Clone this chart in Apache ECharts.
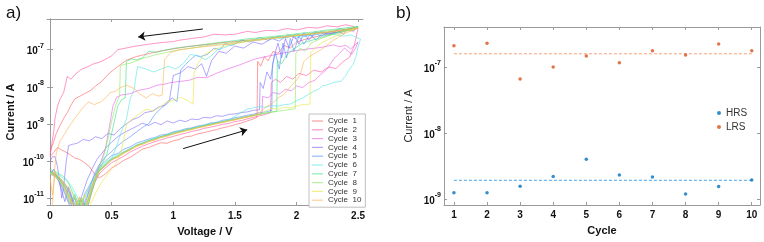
<!DOCTYPE html>
<html>
<head>
<meta charset="utf-8">
<script src="https://cdn.jsdelivr.net/npm/echarts@6/dist/echarts.min.js"></script>
<style>
  html, body { margin: 0; padding: 0; background: #fff; }
  #chart { width: 764px; height: 242px; }
</style>
</head>
<body>
<div id="chart"></div>
<script>
// ---- panel a) : I-V sweeps, [voltage, current] ----
const cycle1 = [[0,1.3e-10],[0.03,1.7e-10],[0.06,2.3e-10],[0.09,2.0e-10],[0.12,1.8e-10],[0.16,1.5e-10],[0.2,1.2e-10],[0.24,1.1e-10],[0.28,9e-11],[0.32,7e-11],[0.36,4.5e-11],[0.4,3.5e-11],[0.45,4.5e-11],[0.5,6.5e-11],[0.55,8e-11],[0.6,1.05e-10],[0.65,1.25e-10],[0.7,1.6e-10],[0.75,2.1e-10],[0.8,2.3e-10],[0.85,2.7e-10],[0.9,3.1e-10],[0.95,3.0e-10],[1.0,3.5e-10],[1.05,3.8e-10],[1.1,4.5e-10],[1.15,4.7e-10],[1.2,5.4e-10],[1.25,5.8e-10],[1.3,6.4e-10],[1.35,7e-10],[1.4,7.8e-10],[1.45,8.5e-10],[1.5,9.5e-10],[1.55,1.05e-9],[1.6,1.2e-9],[1.65,1.35e-9],[1.68,1.5e-9],[1.685,4.8e-8],[1.71,3.6e-8],[1.74,6.5e-8],[1.77,5e-8],[1.81,9e-8],[1.85,8e-8],[1.9,1.3e-7],[1.95,1.1e-7],[2.0,1.6e-7],[2.07,1.9e-7],[2.15,2.2e-7],[2.25,2.6e-7],[2.35,3.1e-7],[2.43,3.5e-7],[2.5,4.1e-7],
  [2.46,3.8e-7],[2.4,3.4e-7],[2.33,3.3e-7],[2.25,2.9e-7],[2.17,2.8e-7],[2.08,2.5e-7],[2.0,2.4e-7],[1.9,2.2e-7],[1.8,2.1e-7],[1.7,1.9e-7],[1.6,1.8e-7],[1.5,1.65e-7],[1.4,1.55e-7],[1.3,1.4e-7],[1.2,1.3e-7],[1.1,1.18e-7],[1.0,1.05e-7],[0.9,9.2e-8],[0.8,7.8e-8],[0.7,6.5e-8],[0.62,5.2e-8],[0.54,3.3e-8],[0.48,2.3e-8],[0.42,1.4e-8],[0.37,1.05e-8],[0.33,8e-9],[0.28,6.5e-9],[0.24,5.5e-9],[0.2,4.7e-9],[0.17,3.2e-9],[0.14,2e-9],[0.11,1.4e-9],[0.08,9e-10],[0.05,5.5e-10],[0.03,3.4e-10],[0.01,2.2e-10],[0,1.8e-10]];
const cycle2 = [[0,5.5e-11],[0.04,4.5e-11],[0.08,3.2e-11],[0.12,2e-11],[0.16,9e-12],[0.2,4e-12],[0.24,7e-12],[0.28,3e-12],[0.32,9e-12],[0.36,2.5e-11],[0.4,4.5e-11],[0.45,6.5e-11],[0.5,9e-11],[0.55,1.1e-10],[0.6,1.35e-10],[0.65,1.75e-10],[0.7,2.1e-10],[0.75,2.5e-10],[0.8,2.9e-10],[0.85,3.3e-10],[0.9,3.7e-10],[0.95,4.2e-10],[1.0,4.6e-10],[1.05,5.1e-10],[1.1,5.6e-10],[1.15,6.3e-10],[1.2,6.7e-10],[1.25,7.6e-10],[1.3,8.1e-10],[1.35,8.8e-10],[1.4,9.7e-10],[1.45,1.03e-9],[1.5,1.15e-9],[1.55,1.22e-9],[1.6,1.36e-9],[1.65,1.5e-9],[1.7,1.65e-9],[1.75,1.8e-9],[1.79,2e-9],[1.795,1.3e-8],[1.83,1.6e-8],[1.87,1.3e-8],[1.92,1.9e-8],[1.97,1.6e-8],[2.02,2.3e-8],[2.08,2e-8],[2.14,2.8e-8],[2.2,2.5e-8],[2.26,3.4e-8],[2.32,3.1e-8],[2.38,4.8e-8],[2.43,6.2e-8],[2.47,1.3e-7],[2.5,3.8e-7],
  [2.45,4.3e-7],[2.4,4.7e-7],[2.33,4.1e-7],[2.25,4.4e-7],[2.17,3.8e-7],[2.1,4e-7],[2.0,3.4e-7],[1.92,3.7e-7],[1.84,3.2e-7],[1.75,3.3e-7],[1.67,2.9e-7],[1.6,3.1e-7],[1.5,2.6e-7],[1.42,2.5e-7],[1.33,2.6e-7],[1.25,2.2e-7],[1.15,2e-7],[1.05,1.8e-7],[1.0,1.65e-7],[0.9,1.55e-7],[0.8,1.4e-7],[0.7,1.25e-7],[0.6,1.08e-7],[0.55,1e-7],[0.5,6.8e-8],[0.45,5.5e-8],[0.4,4.6e-8],[0.35,4.1e-8],[0.3,3.4e-8],[0.25,2.9e-8],[0.2,2.1e-8],[0.17,1.6e-8],[0.14,1.9e-8],[0.11,7e-9],[0.08,4.6e-9],[0.06,3e-9],[0.04,1.4e-9],[0.03,6.3e-10],[0.015,3e-10],[0,1.4e-10]];
const cycle3 = [[0,4.5e-11],[0.04,3.8e-11],[0.08,2.8e-11],[0.12,1.5e-11],[0.16,7e-12],[0.2,1.1e-11],[0.24,4e-12],[0.28,8e-12],[0.32,1.6e-11],[0.36,3e-11],[0.4,5.5e-11],[0.45,8e-11],[0.5,1.1e-10],[0.55,1.35e-10],[0.6,1.7e-10],[0.65,2.1e-10],[0.7,2.5e-10],[0.75,2.9e-10],[0.8,3.5e-10],[0.85,3.7e-10],[0.9,4.5e-10],[0.95,4.9e-10],[1.0,5.4e-10],[1.05,6.2e-10],[1.1,6.6e-10],[1.15,7.5e-10],[1.2,7.9e-10],[1.25,8.9e-10],[1.3,9.3e-10],[1.35,1.05e-9],[1.4,1.1e-9],[1.45,1.22e-9],[1.5,1.3e-9],[1.55,1.45e-9],[1.6,1.55e-9],[1.65,1.7e-9],[1.72,1.85e-9],[1.725,5.5e-9],[1.77,5e-9],[1.81,7e-9],[1.86,6.3e-9],[1.91,8.5e-9],[1.96,7.8e-9],[2.0,1.05e-8],[2.05,9.5e-9],[2.1,1.3e-8],[2.15,1.5e-8],[2.2,2.2e-8],[2.25,3e-8],[2.3,5.5e-8],[2.35,8e-8],[2.39,1.1e-7],[2.42,9e-8],[2.45,7.5e-8],[2.48,1.1e-7],[2.5,1.6e-7],
  [2.47,1.3e-7],[2.44,1.05e-7],[2.4,1.3e-7],[2.35,1.2e-7],[2.3,1.35e-7],[2.2,1.15e-7],[2.1,1.05e-7],[2.0,9.5e-8],[1.9,8.2e-8],[1.8,7e-8],[1.72,6.2e-8],[1.65,5.4e-8],[1.55,4e-8],[1.44,3e-8],[1.35,2.3e-8],[1.27,1.75e-8],[1.2,1.8e-8],[1.13,1.5e-8],[1.06,1.4e-8],[0.98,1.3e-8],[0.92,1.15e-8],[0.87,1.1e-8],[0.8,9e-9],[0.72,8e-9],[0.65,6.5e-9],[0.58,6e-9],[0.54,5.2e-9],[0.51,3e-9],[0.48,8e-10],[0.45,2.2e-10],[0.41,9e-11],[0.37,4e-11],[0.33,1.5e-11],[0.29,6e-12],[0.25,9e-12],[0.21,4e-12],[0.17,1.2e-11],[0.13,2.2e-11],[0.09,3.2e-11],[0.05,4e-11],[0,5e-11]];
const cycle4 = [[0,4e-11],[0.03,6e-11],[0.06,3.5e-11],[0.09,1.8e-11],[0.12,8e-12],[0.15,2e-11],[0.18,1e-11],[0.22,5e-12],[0.26,1.2e-11],[0.3,3e-11],[0.34,6e-11],[0.38,1.1e-10],[0.42,1.6e-10],[0.46,2.4e-10],[0.5,3.2e-10],[0.55,4.5e-10],[0.6,5.8e-10],[0.65,7e-10],[0.7,8.5e-10],[0.75,1.05e-9],[0.8,9e-10],[0.85,1.1e-9],[0.9,9.5e-10],[0.95,1.2e-9],[1.0,1.05e-9],[1.05,1.25e-9],[1.1,1.15e-9],[1.15,1.35e-9],[1.2,1.3e-9],[1.25,1.5e-9],[1.3,1.45e-9],[1.35,1.65e-9],[1.4,1.6e-9],[1.45,1.8e-9],[1.5,1.85e-9],[1.55,2e-9],[1.6,2.1e-9],[1.65,2.3e-9],[1.7,2.4e-9],[1.705,1.3e-8],[1.73,9e-9],[1.76,2.5e-8],[1.79,1.6e-8],[1.82,7e-8],[1.85,1.5e-7],[1.88,6e-8],[1.91,2e-7],[1.94,1.1e-7],[1.98,2.4e-7],[2.02,1.4e-7],[2.06,2.7e-7],[2.1,1.8e-7],[2.15,2.9e-7],[2.2,2.3e-7],[2.27,3.1e-7],[2.35,2.8e-7],[2.42,3.5e-7],[2.5,4e-7],
  [2.46,3.1e-7],[2.42,3.8e-7],[2.38,2.6e-7],[2.33,3.3e-7],[2.27,2.5e-7],[2.2,3.1e-7],[2.13,2.3e-7],[2.06,2.8e-7],[2.0,2e-7],[1.93,2.5e-7],[1.86,1.7e-7],[1.8,2e-7],[1.72,1.4e-7],[1.65,1.6e-7],[1.57,1.1e-7],[1.5,1.25e-7],[1.43,8e-8],[1.37,9e-8],[1.31,5e-8],[1.27,1.9e-8],[1.23,4.2e-8],[1.18,3e-8],[1.12,3.5e-8],[1.06,2.4e-8],[1.0,2e-8],[0.97,4.5e-9],[0.93,3.2e-9],[0.88,2.8e-9],[0.83,2.2e-9],[0.77,2e-9],[0.72,1.5e-9],[0.67,1.3e-9],[0.62,1e-9],[0.57,7.5e-10],[0.52,5e-10],[0.47,5.5e-10],[0.42,4e-10],[0.37,4.5e-10],[0.32,3.5e-10],[0.27,3.8e-10],[0.22,3e-10],[0.18,2.8e-10],[0.15,2.6e-10],[0.13,9e-11],[0.11,2e-11],[0.095,1e-11],[0.08,2.5e-11],[0.06,7e-11],[0.04,1.3e-10],[0.02,1.3e-10],[0,1e-10]];
const cycle5 = [[0,5e-11],[0.04,4e-11],[0.08,2.6e-11],[0.12,1.3e-11],[0.16,6e-12],[0.2,1e-11],[0.24,4e-12],[0.28,1.3e-11],[0.32,2.2e-11],[0.36,4e-11],[0.4,7e-11],[0.45,1e-10],[0.5,1.4e-10],[0.55,1.6e-10],[0.6,2.1e-10],[0.65,2.4e-10],[0.7,3e-10],[0.75,3.4e-10],[0.8,3.9e-10],[0.85,4.3e-10],[0.9,5e-10],[0.95,5.3e-10],[1.0,6.1e-10],[1.05,6.6e-10],[1.1,7.4e-10],[1.15,7.8e-10],[1.2,8.8e-10],[1.25,9.3e-10],[1.3,1.05e-9],[1.35,1.1e-9],[1.4,1.25e-9],[1.45,1.32e-9],[1.5,1.46e-9],[1.55,1.56e-9],[1.6,1.7e-9],[1.65,1.82e-9],[1.7,2e-9],[1.75,2.1e-9],[1.8,2.3e-9],[1.805,4e-8],[1.83,8e-8],[1.86,3e-8],[1.89,1.5e-7],[1.92,6e-8],[1.95,2e-7],[1.98,9e-8],[2.02,2.3e-7],[2.06,1.4e-7],[2.11,2.6e-7],[2.16,1.8e-7],[2.22,3e-7],[2.3,2.6e-7],[2.38,3.5e-7],[2.45,3.2e-7],[2.5,4.1e-7],
  [2.45,3.7e-7],[2.4,3.3e-7],[2.35,3.7e-7],[2.3,3e-7],[2.22,2.7e-7],[2.15,3e-7],[2.07,2.3e-7],[2.0,2.6e-7],[1.92,2.1e-7],[1.85,2.3e-7],[1.77,1.8e-7],[1.7,2.1e-7],[1.62,1.6e-7],[1.55,1.8e-7],[1.48,1.3e-7],[1.42,1.45e-7],[1.38,1e-7],[1.33,1.1e-7],[1.28,7.5e-8],[1.22,6.5e-8],[1.18,7e-8],[1.14,5.4e-8],[1.1,4e-8],[1.06,2.8e-8],[1.03,4e-9],[0.99,5e-9],[0.95,3.5e-9],[0.9,2.6e-9],[0.85,1.8e-9],[0.8,1e-9],[0.75,8e-10],[0.7,6e-10],[0.65,4.5e-10],[0.6,3.5e-10],[0.55,2.6e-10],[0.5,1.8e-10],[0.45,1.3e-10],[0.4,8e-11],[0.36,4.5e-11],[0.32,1.8e-11],[0.28,6e-12],[0.24,1e-11],[0.2,5e-12],[0.16,1.3e-11],[0.12,2.3e-11],[0.08,3.2e-11],[0.04,4e-11],[0,4.5e-11]];
const cycle6 = [[0,5e-11],[0.04,4.3e-11],[0.08,3e-11],[0.12,1.7e-11],[0.16,8e-12],[0.2,1.3e-11],[0.24,5e-12],[0.28,1e-11],[0.32,2e-11],[0.36,3.5e-11],[0.4,6e-11],[0.45,9e-11],[0.5,1.2e-10],[0.55,1.5e-10],[0.6,1.8e-10],[0.65,2.2e-10],[0.7,2.6e-10],[0.75,3.1e-10],[0.8,3.5e-10],[0.85,4.1e-10],[0.9,4.5e-10],[0.95,5.1e-10],[1.0,5.6e-10],[1.05,6.3e-10],[1.1,6.8e-10],[1.15,7.6e-10],[1.2,8.2e-10],[1.25,9e-10],[1.3,9.8e-10],[1.35,1.07e-9],[1.4,1.15e-9],[1.45,1.25e-9],[1.5,1.6e-9],[1.55,2e-9],[1.6,2.5e-9],[1.65,2.7e-9],[1.7,2.9e-9],[1.75,2.8e-9],[1.8,3.1e-9],[1.85,3e-9],[1.9,3.3e-9],[1.95,3.4e-9],[2.0,4.2e-9],[2.05,5e-9],[2.1,6.3e-9],[2.14,7.6e-9],[2.18,8.5e-9],[2.21,1.05e-8],[2.26,1.15e-8],[2.3,1.3e-8],[2.36,1.4e-8],[2.4,2e-8],[2.43,3e-8],[2.46,4e-8],[2.48,6e-8],[2.5,1.2e-7],[2.52,1.9e-7],
  [2.48,2.2e-7],[2.44,2.5e-7],[2.38,2.3e-7],[2.3,2.6e-7],[2.22,2.4e-7],[2.14,2.6e-7],[2.05,2.2e-7],[1.96,2.3e-7],[1.87,2e-7],[1.78,2.1e-7],[1.7,1.8e-7],[1.6,1.7e-7],[1.5,1.45e-7],[1.42,1.15e-7],[1.36,1e-7],[1.3,6.5e-8],[1.26,5.4e-8],[1.2,6.8e-8],[1.14,7.5e-8],[1.08,4.2e-8],[1.02,3e-8],[0.96,3.6e-8],[0.9,3e-8],[0.84,2.5e-8],[0.78,3e-8],[0.71,3.5e-8],[0.68,8e-9],[0.65,4.7e-9],[0.62,1.35e-9],[0.58,6.3e-10],[0.54,2.5e-10],[0.5,1.2e-10],[0.45,8e-11],[0.4,5e-11],[0.35,2.5e-11],[0.3,1e-11],[0.26,5e-12],[0.22,1.1e-11],[0.17,2.2e-11],[0.12,3.2e-11],[0.07,4.2e-11],[0,5e-11]];
const cycle7 = [[0,5.2e-11],[0.04,4.4e-11],[0.08,3.1e-11],[0.12,1.9e-11],[0.16,1.1e-11],[0.2,6e-12],[0.24,9e-12],[0.28,4.5e-12],[0.32,1.1e-11],[0.36,2.8e-11],[0.4,5.5e-11],[0.45,7.5e-11],[0.5,1.1e-10],[0.55,1.3e-10],[0.6,1.7e-10],[0.65,2e-10],[0.7,2.7e-10],[0.75,3e-10],[0.8,3.6e-10],[0.85,4e-10],[0.9,4.6e-10],[0.95,5e-10],[1.0,5.8e-10],[1.05,6.2e-10],[1.1,7e-10],[1.15,7.5e-10],[1.2,8.3e-10],[1.25,9e-10],[1.3,1e-9],[1.35,1.06e-9],[1.4,1.16e-9],[1.45,1.25e-9],[1.5,1.36e-9],[1.55,1.45e-9],[1.6,1.6e-9],[1.65,1.7e-9],[1.7,1.85e-9],[1.75,1.95e-9],[1.8,2.1e-9],[1.84,2.2e-9],[1.845,5e-8],[1.88,4.2e-8],[1.92,7e-8],[1.97,1e-7],[2.05,1.5e-7],[2.15,1.9e-7],[2.25,2.4e-7],[2.35,3e-7],[2.45,3.6e-7],[2.5,4.2e-7],
  [2.45,4e-7],[2.38,3.8e-7],[2.3,3.5e-7],[2.22,3.3e-7],[2.14,3e-7],[2.05,2.8e-7],[1.97,2.6e-7],[1.88,2.4e-7],[1.8,2.25e-7],[1.7,2.1e-7],[1.6,1.95e-7],[1.5,1.75e-7],[1.4,1.6e-7],[1.3,1.45e-7],[1.2,1.3e-7],[1.1,1.2e-7],[1.0,1.08e-7],[0.92,9.5e-8],[0.86,8.5e-8],[0.8,9e-8],[0.75,6e-8],[0.7,5.3e-8],[0.66,5.6e-8],[0.62,4.8e-8],[0.61,5e-9],[0.58,4.5e-9],[0.55,3e-9],[0.52,1.1e-9],[0.49,4e-10],[0.46,1.5e-10],[0.42,8e-11],[0.38,4e-11],[0.34,1.5e-11],[0.3,5e-12],[0.26,1e-11],[0.22,6e-12],[0.18,1.5e-11],[0.14,3e-11],[0.1,4e-11],[0.05,5e-11],[0,6e-11]];
const cycle8 = [[0,4.8e-11],[0.04,4e-11],[0.08,2.7e-11],[0.12,1.6e-11],[0.16,7e-12],[0.2,1.2e-11],[0.24,6e-12],[0.28,1.1e-11],[0.32,1.9e-11],[0.36,3.3e-11],[0.4,6e-11],[0.45,8.5e-11],[0.5,1.15e-10],[0.55,1.4e-10],[0.6,1.75e-10],[0.65,2.15e-10],[0.7,2.5e-10],[0.75,3e-10],[0.8,3.3e-10],[0.85,3.9e-10],[0.9,4.3e-10],[0.95,4.9e-10],[1.0,5.3e-10],[1.05,6e-10],[1.1,6.5e-10],[1.15,7.3e-10],[1.2,7.8e-10],[1.25,8.8e-10],[1.3,9.3e-10],[1.35,1.04e-9],[1.4,1.1e-9],[1.45,1.22e-9],[1.5,1.3e-9],[1.55,1.44e-9],[1.6,1.52e-9],[1.65,1.68e-9],[1.7,1.78e-9],[1.75,1.95e-9],[1.8,2.05e-9],[1.85,2.2e-9],[1.9,2.3e-9],[1.95,2.45e-9],[1.99,2.55e-9],[1.995,8e-8],[2.03,1.1e-7],[2.07,9e-8],[2.12,1.5e-7],[2.2,2e-7],[2.3,2.6e-7],[2.4,3.2e-7],[2.5,4e-7],
  [2.45,3.8e-7],[2.35,3.5e-7],[2.25,3.15e-7],[2.15,2.85e-7],[2.05,2.6e-7],[1.95,2.4e-7],[1.85,2.2e-7],[1.75,2e-7],[1.65,1.85e-7],[1.55,1.7e-7],[1.45,1.5e-7],[1.35,1.38e-7],[1.25,1.25e-7],[1.15,1.1e-7],[1.05,1e-7],[0.95,8.5e-8],[0.85,7.2e-8],[0.75,5.8e-8],[0.7,5e-8],[0.65,4.3e-8],[0.6,4e-8],[0.57,3.6e-8],[0.565,6e-9],[0.53,3e-9],[0.5,1.2e-9],[0.47,4e-10],[0.44,1.5e-10],[0.4,7e-11],[0.36,3e-11],[0.32,1e-11],[0.28,4e-12],[0.24,8e-12],[0.2,4e-12],[0.16,1.2e-11],[0.12,2.5e-11],[0.08,3.5e-11],[0.04,4.2e-11],[0,5e-11]];
const cycle9 = [[0,4.6e-11],[0.04,3.9e-11],[0.08,2.9e-11],[0.12,1.7e-11],[0.16,9e-12],[0.2,5e-12],[0.24,1e-11],[0.28,5e-12],[0.32,1.3e-11],[0.36,3e-11],[0.4,5.2e-11],[0.45,7.8e-11],[0.5,1.05e-10],[0.55,1.3e-10],[0.6,1.6e-10],[0.65,2e-10],[0.7,2.4e-10],[0.75,2.8e-10],[0.8,3.3e-10],[0.85,3.6e-10],[0.9,4.3e-10],[0.95,4.6e-10],[1.0,5.3e-10],[1.05,5.7e-10],[1.1,6.5e-10],[1.15,6.9e-10],[1.2,7.8e-10],[1.25,8.3e-10],[1.3,9.2e-10],[1.35,1e-9],[1.4,1.08e-9],[1.45,1.18e-9],[1.5,1.27e-9],[1.55,1.38e-9],[1.6,1.5e-9],[1.65,1.62e-9],[1.7,1.8e-9],[1.75,2.2e-9],[1.8,2.6e-9],[1.85,2.5e-9],[1.9,2.8e-9],[1.95,2.7e-9],[2.0,3e-9],[2.05,3.3e-9],[2.11,3.4e-9],[2.115,8.3e-8],[2.15,1.1e-7],[2.2,1.5e-7],[2.3,2.2e-7],[2.4,3e-7],[2.5,3.8e-7],
  [2.45,3.5e-7],[2.35,3.2e-7],[2.25,2.9e-7],[2.15,2.7e-7],[2.05,2.5e-7],[1.95,2.3e-7],[1.85,2.1e-7],[1.75,1.95e-7],[1.65,1.8e-7],[1.55,1.55e-7],[1.45,1.35e-7],[1.38,1.15e-7],[1.32,9.5e-8],[1.25,7.4e-8],[1.2,4.2e-8],[1.17,2.5e-8],[1.16,3.4e-9],[1.12,4.2e-9],[1.06,5.2e-9],[1.0,4.2e-9],[0.95,4e-9],[0.9,3e-9],[0.84,2.2e-9],[0.78,2.5e-9],[0.72,1.8e-9],[0.66,1.3e-9],[0.62,1e-9],[0.6,4e-10],[0.57,1.5e-10],[0.53,8e-11],[0.48,5e-11],[0.43,3e-11],[0.38,1.6e-11],[0.33,7e-12],[0.28,1.2e-11],[0.24,5e-12],[0.2,1e-11],[0.15,2e-11],[0.1,2.7e-11],[0.06,4e-11],[0.03,5e-11],[0,4.2e-11]];
const cycle10 = [[0,3.5e-11],[0.02,1.2e-11],[0.04,5e-11],[0.08,3.3e-11],[0.12,2e-11],[0.16,1e-11],[0.2,6e-12],[0.24,1.1e-11],[0.28,5e-12],[0.32,1.2e-11],[0.36,2.9e-11],[0.4,5.5e-11],[0.45,7.2e-11],[0.5,1.08e-10],[0.55,1.25e-10],[0.6,1.65e-10],[0.65,1.95e-10],[0.7,2.6e-10],[0.75,2.8e-10],[0.8,3.4e-10],[0.85,3.7e-10],[0.9,4.4e-10],[0.95,4.7e-10],[1.0,5.5e-10],[1.05,5.9e-10],[1.1,6.7e-10],[1.15,7.1e-10],[1.2,8e-10],[1.25,8.5e-10],[1.3,9.5e-10],[1.35,1.01e-9],[1.4,1.12e-9],[1.45,1.2e-9],[1.5,1.32e-9],[1.55,1.42e-9],[1.6,1.55e-9],[1.65,1.7e-9],[1.7,2e-9],[1.75,2.8e-9],[1.8,3.5e-9],[1.85,5e-9],[1.9,6.3e-9],[1.95,1e-8],[2.0,1.5e-8],[2.03,2.1e-8],[2.06,4.8e-8],[2.1,6.3e-8],[2.15,8e-8],[2.2,1e-7],[2.3,1.8e-7],[2.4,2.8e-7],[2.5,3.8e-7],
  [2.45,3.6e-7],[2.35,3.3e-7],[2.25,3e-7],[2.15,2.7e-7],[2.05,2.5e-7],[1.95,2.25e-7],[1.85,2.1e-7],[1.75,1.9e-7],[1.65,1.72e-7],[1.55,1.6e-7],[1.45,1.42e-7],[1.35,1.3e-7],[1.25,1.2e-7],[1.15,1.1e-7],[1.05,9.8e-8],[0.98,8.5e-8],[0.93,5.5e-8],[0.91,6e-9],[0.88,5.6e-9],[0.83,6.5e-9],[0.78,5e-9],[0.73,6.3e-9],[0.68,9e-9],[0.62,1.1e-8],[0.57,9.5e-9],[0.53,7.5e-9],[0.49,7e-9],[0.45,5e-9],[0.41,3.9e-9],[0.36,3.3e-9],[0.31,3.9e-9],[0.27,2.8e-9],[0.24,2.1e-9],[0.2,1.4e-9],[0.16,9e-10],[0.12,5.5e-10],[0.08,3.4e-10],[0.05,1.6e-10],[0.035,5e-11],[0.025,1.2e-11],[0.015,4e-12]];

const cycles = [cycle1, cycle2, cycle3, cycle4, cycle5, cycle6, cycle7, cycle8, cycle9, cycle10];
const cycleNames = ['Cycle  1', 'Cycle  2', 'Cycle  3', 'Cycle  4', 'Cycle  5', 'Cycle  6', 'Cycle  7', 'Cycle  8', 'Cycle  9', 'Cycle  10'];
const voltageTicks = [0, 0.5, 1, 1.5, 2, 2.5];
const currentTicksA = [1e-11, 1e-10, 1e-9, 1e-8, 1e-7];
const arrowSet = [[1.08, 2.15e-10], [1.6, 6.9e-10]];
const arrowReset = [[1.24, 3.6e-7], [0.715, 2.2e-7]];

// ---- panel b) : retention per cycle ----
const cycleNo = [1, 2, 3, 4, 5, 6, 7, 8, 9, 10];
const hrs = [1.24e-9, 1.24e-9, 1.56e-9, 2.2e-9, 4.0e-9, 2.3e-9, 2.15e-9, 1.19e-9, 1.54e-9, 1.94e-9];
const lrs = [2.1e-7, 2.3e-7, 6.6e-8, 1.0e-7, 1.47e-7, 1.16e-7, 1.77e-7, 1.52e-7, 2.23e-7, 1.77e-7];
const hrsMean = 1.92e-9;
const lrsMean = 1.59e-7;
const currentTicksB = [1e-9, 1e-8, 1e-7];

const colors = ['#ff5a5a', '#ff4f9e', '#e85be8', '#7b68ff', '#4f8cff', '#4fe6e6', '#39e07f', '#8de85a', '#e6e63c', '#ffb050'];
const FONT = 'Liberation Sans, Arial, sans-serif';
const boxColor = '#9a9a9a';

function powLabel(v) {
  return '{b|10}{s|' + Math.round(Math.log10(v)) + '}';
}
const powRich = {
  b: { fontSize: 10, fontWeight: 'bold', fontFamily: FONT, color: '#111', lineHeight: 14, verticalAlign: 'bottom' },
  s: { fontSize: 7, fontWeight: 'bold', fontFamily: FONT, color: '#111', lineHeight: 14, verticalAlign: 'top' }
};

function boxAxis(extra) {
  return Object.assign({
    axisLine: { show: true, lineStyle: { color: boxColor, width: 1 } },
    axisTick: { show: true, inside: true, length: 3, lineStyle: { color: boxColor } },
    splitLine: { show: false }
  }, extra);
}

const chart = echarts.init(document.getElementById('chart'));

const series = cycles.map((d, i) => ({
  name: cycleNames[i],
  type: 'line',
  xAxisIndex: 0,
  yAxisIndex: 0,
  data: d,
  symbol: 'none',
  showSymbol: false,
  lineStyle: { width: 0.7, color: colors[i], opacity: 0.85 },
  itemStyle: { color: colors[i] },
  z: 2
}));

series.push({
  name: 'arrows',
  type: 'line',
  xAxisIndex: 0,
  yAxisIndex: 0,
  data: [],
  markLine: {
    silent: true,
    symbol: ['none', 'arrow'],
    symbolSize: 7,
    label: { show: false },
    lineStyle: { color: '#111', width: 1, type: 'solid' },
    data: [
      [{ coord: arrowReset[0] }, { coord: arrowReset[1] }],
      [{ coord: arrowSet[0] }, { coord: arrowSet[1] }]
    ]
  },
  z: 5
});

series.push({
  name: 'HRS', type: 'scatter', xAxisIndex: 2, yAxisIndex: 2,
  data: cycleNo.map((c, i) => [c, hrs[i]]),
  symbolSize: 3.5, itemStyle: { color: '#0072bd' }, z: 3
});
series.push({
  name: 'LRS', type: 'scatter', xAxisIndex: 2, yAxisIndex: 2,
  data: cycleNo.map((c, i) => [c, lrs[i]]),
  symbolSize: 3.5, itemStyle: { color: '#d95319' }, z: 3
});
series.push({
  name: 'hrsMean', type: 'line', xAxisIndex: 2, yAxisIndex: 2,
  data: [[cycleNo[0], hrsMean], [cycleNo[cycleNo.length - 1], hrsMean]],
  symbol: 'none', lineStyle: { color: '#4aa3e8', width: 1, type: [3, 2] }, z: 2
});
series.push({
  name: 'lrsMean', type: 'line', xAxisIndex: 2, yAxisIndex: 2,
  data: [[cycleNo[0], lrsMean], [cycleNo[cycleNo.length - 1], lrsMean]],
  symbol: 'none', lineStyle: { color: '#f5a37c', width: 1, type: [3, 2] }, z: 2
});

chart.setOption({
  animation: false,
  backgroundColor: '#ffffff',
  title: [
    { text: 'a)', left: 1, top: 0, textStyle: { fontSize: 17, fontWeight: 'normal', fontFamily: FONT, color: '#111' } },
    { text: 'b)', left: 391, top: 0, textStyle: { fontSize: 17, fontWeight: 'normal', fontFamily: FONT, color: '#111' } }
  ],
  grid: [
    { left: 47, top: 19, width: 316, height: 188 },
    { left: 444, top: 27, width: 316, height: 178 }
  ],
  legend: [
    {
      data: cycleNames,
      orient: 'vertical',
      left: 309, top: 114,
      icon: 'rect',
      itemWidth: 11, itemHeight: 1.2, itemGap: 0.8,
      itemStyle: { opacity: 0.6 },
      padding: [3, 4, 3, 3],
      backgroundColor: '#fff',
      borderColor: '#b0b0b0', borderWidth: 0.8,
      textStyle: { fontSize: 8, fontFamily: FONT, color: '#333', lineHeight: 8 }
    },
    {
      data: ['HRS', 'LRS'],
      orient: 'vertical',
      left: 712, top: 103,
      icon: 'circle', itemWidth: 4, itemHeight: 4, itemGap: 4,
      textStyle: { fontSize: 10, fontFamily: FONT, color: '#333' }
    }
  ],
  xAxis: [
    boxAxis({
      gridIndex: 0, type: 'value', min: -0.025, max: 2.54,
      name: 'Voltage / V', nameLocation: 'middle', nameGap: 21,
      nameTextStyle: { fontSize: 11, fontWeight: 'bold', fontFamily: FONT, color: '#111' },
      axisTick: { show: true, inside: true, length: 3, lineStyle: { color: boxColor }, customValues: voltageTicks },
      axisLabel: { customValues: voltageTicks, fontSize: 10, fontWeight: 'bold', fontFamily: FONT, color: '#111', margin: 6 }
    }),
    boxAxis({
      gridIndex: 0, type: 'value', min: -0.025, max: 2.54, position: 'top',
      axisTick: { show: true, inside: true, length: 3, lineStyle: { color: boxColor }, customValues: voltageTicks },
      axisLabel: { show: false }
    }),
    boxAxis({
      gridIndex: 1, type: 'value', min: 0.7, max: 10.25,
      name: 'Cycle', nameLocation: 'middle', nameGap: 20,
      nameTextStyle: { fontSize: 11, fontWeight: 'bold', fontFamily: FONT, color: '#111' },
      axisTick: { show: true, inside: true, length: 3, lineStyle: { color: boxColor }, customValues: cycleNo },
      axisLabel: { customValues: cycleNo, fontSize: 10, fontWeight: 'bold', fontFamily: FONT, color: '#111', margin: 5 }
    }),
    boxAxis({
      gridIndex: 1, type: 'value', min: 0.7, max: 10.25, position: 'top',
      axisTick: { show: true, inside: true, length: 3, lineStyle: { color: boxColor }, customValues: cycleNo },
      axisLabel: { show: false }
    })
  ],
  yAxis: [
    boxAxis({
      gridIndex: 0, type: 'log', logBase: 10, min: 6.5e-12, max: 6.7e-7,
      name: 'Current / A', nameLocation: 'middle', nameGap: 31,
      nameTextStyle: { fontSize: 11, fontWeight: 'bold', fontFamily: FONT, color: '#111' },
      axisTick: { show: true, inside: true, length: 3, lineStyle: { color: boxColor }, customValues: currentTicksA },
      axisLabel: { customValues: currentTicksA, formatter: powLabel, rich: powRich, margin: 3 }
    }),
    boxAxis({
      gridIndex: 0, type: 'log', logBase: 10, min: 6.5e-12, max: 6.7e-7, position: 'right',
      axisTick: { show: true, inside: true, length: 3, lineStyle: { color: boxColor }, customValues: currentTicksA },
      axisLabel: { show: false }
    }),
    boxAxis({
      gridIndex: 1, type: 'log', logBase: 10, min: 8.1e-10, max: 4.05e-7,
      name: 'Current / A', nameLocation: 'middle', nameGap: 30,
      nameTextStyle: { fontSize: 11, fontFamily: FONT, color: '#222' },
      axisTick: { show: true, inside: true, length: 3, lineStyle: { color: boxColor }, customValues: currentTicksB },
      axisLabel: { customValues: currentTicksB, formatter: powLabel, rich: powRich, margin: 3 }
    }),
    boxAxis({
      gridIndex: 1, type: 'log', logBase: 10, min: 8.1e-10, max: 4.05e-7, position: 'right',
      axisTick: { show: true, inside: true, length: 3, lineStyle: { color: boxColor }, customValues: currentTicksB },
      axisLabel: { show: false }
    })
  ],
  series: series
});
</script>
</body>
</html>
